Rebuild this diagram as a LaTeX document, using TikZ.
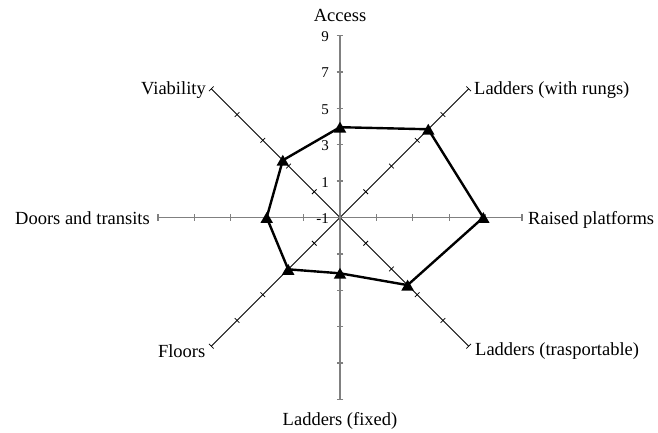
\documentclass[tikz,border=0pt]{standalone}
\usepackage{fontspec}
\setmainfont{Liberation Serif}
\usetikzlibrary{calc,shapes.geometric}
\definecolor{axisgray}{RGB}{128,128,128}
\begin{document}
\begin{tikzpicture}[x=1pt,y=1pt,
  mainaxis/.style={draw=axisgray, line width=1.3pt},
  diagaxis/.style={draw=black, line width=0.75pt},
  dataline/.style={draw=black, line width=2.4pt, line join=round},
  tri/.style={regular polygon, regular polygon sides=3, fill=black, draw=none,
              inner sep=0pt, minimum size=14.5pt, yshift=-1.8pt},
  lbl/.style={inner sep=0pt, font=\fontsize{18.5}{20}\selectfont},
  ticklbl/.style={inner sep=0pt, anchor=east, font=\fontsize{15}{16}\selectfont}]
\useasboundingbox (0,0) rectangle (658,432);
\coordinate (C) at (340,214.5);
% axis ends
\foreach \a/\n in {90/N,45/NE,0/E,-45/SE,-90/S,-135/SW,180/W,135/NW}
  \coordinate (e\n) at ($(C)+(\a:182)$);
% diagonal axes
\draw[diagaxis] (eNE) -- (eSW);
\draw[diagaxis] (eNW) -- (eSE);
\foreach \a in {45,-45,-135,135}{
  \foreach \k in {1,2,3,4,5}{
    \pgfmathsetmacro{\tx}{340+\k*36.4*cos(\a)}
    \pgfmathsetmacro{\ty}{214.5+\k*36.4*sin(\a)}
    \pgfmathsetmacro{\ux}{-3.3*sin(\a)}
    \pgfmathsetmacro{\uy}{3.3*cos(\a)}
    \draw[diagaxis] (\tx+\ux,\ty+\uy) -- (\tx-\ux,\ty-\uy);
  }
}
% main axes
\draw[mainaxis] (eN) -- (eS);
\draw[mainaxis] (eW) -- (eE);
\foreach \a in {90,0,-90,180}{
  \foreach \k in {1,2,3,4,5}{
    \pgfmathsetmacro{\tx}{340+\k*36.4*cos(\a)}
    \pgfmathsetmacro{\ty}{214.5+\k*36.4*sin(\a)}
    \pgfmathsetmacro{\ux}{-3.4*sin(\a)}
    \pgfmathsetmacro{\uy}{3.4*cos(\a)}
    \draw[mainaxis] (\tx+\ux,\ty+\uy) -- (\tx-\ux,\ty-\uy);
  }
}
% tick labels
\foreach \v/\k in {-1/0,1/1,3/2,5/3,7/4,9/5}
  \node[ticklbl] (t\k) at (329,{214.5+\k*36.4-1}) {\v};
% data points
\foreach \a/\r/\i in {90/90.3/1,45/124.8/2,0/143.3/3,-45/95.6/4,-90/55.8/5,-135/73.3/6,180/73.3/7,135/80.9/8}
  \coordinate (p\i) at ($(C)+(\a:\r)$);
\draw[dataline] (p1) -- (p2) -- (p3) -- (p4) -- (p5) -- (p6) -- (p7) -- (p8) -- cycle;
\foreach \i in {1,...,8}
  \node[tri] (m\i) at (p\i) {};
% category labels
\node[lbl, anchor=base] (lN) at (340,410.5) {Access};
\node[lbl, anchor=base west] (lNE) at (474,337.5) {Ladders (with rungs)};
\node[lbl, anchor=base west] (lE) at (528,207.5) {Raised platforms};
\node[lbl, anchor=base west] (lSE) at (475,77) {Ladders (trasportable)};
\node[lbl, anchor=base] (lS) at (340,7) {Ladders (fixed)};
\node[lbl, anchor=base east] (lSW) at (205.5,75) {Floors};
\node[lbl, anchor=base east] (lW) at (150,207.5) {Doors and transits};
\node[lbl, anchor=base east] (lNW) at (206,337.5) {Viability};
\end{tikzpicture}
\end{document}
